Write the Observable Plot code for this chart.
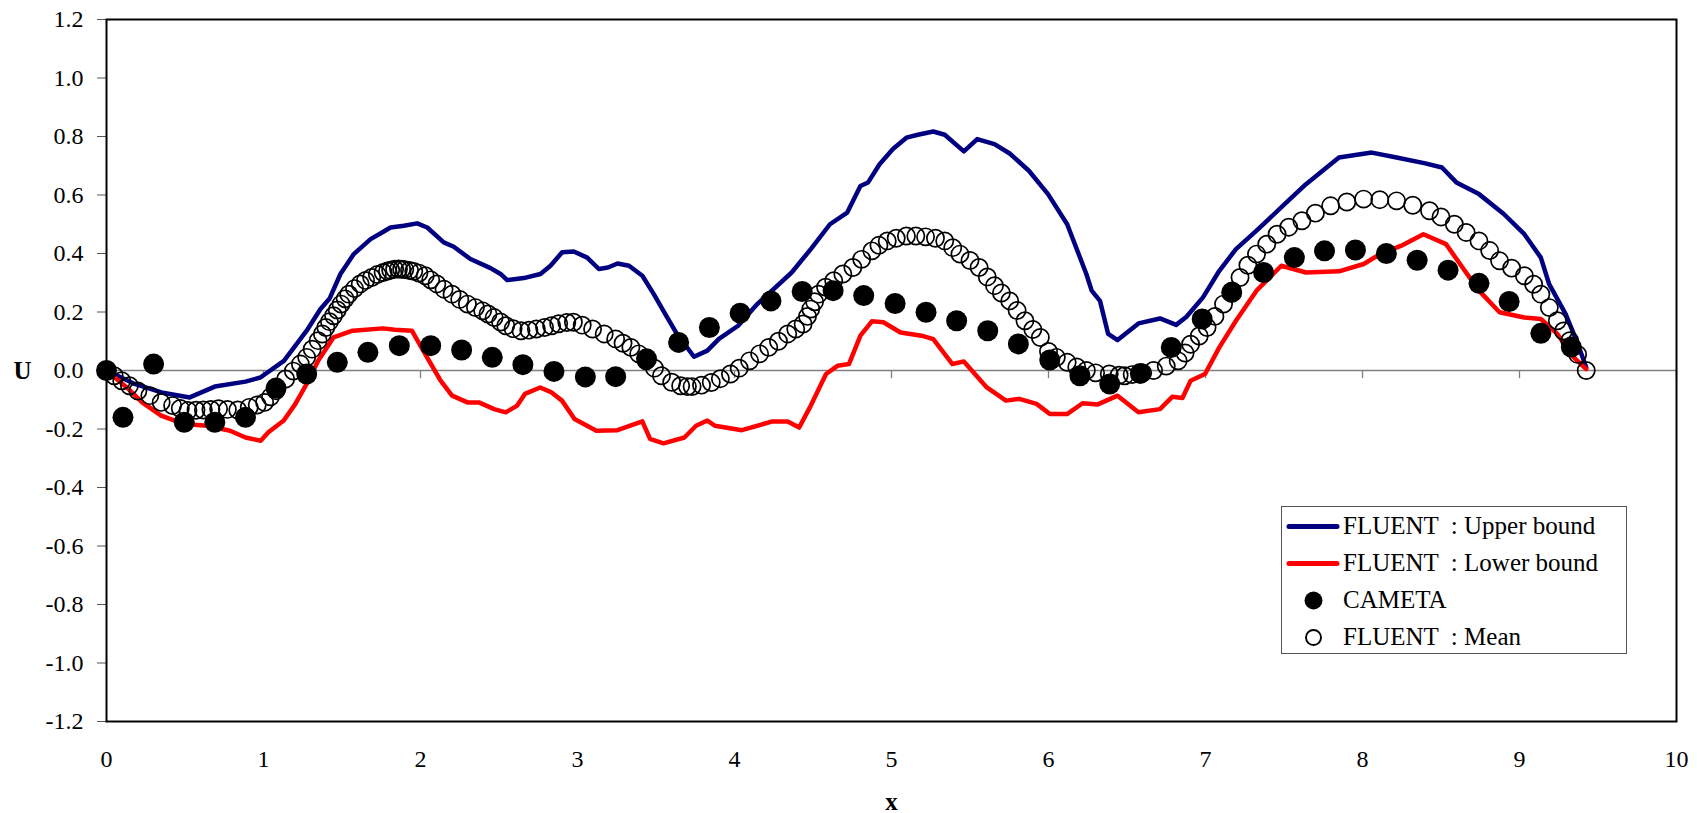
<!DOCTYPE html>
<html>
<head>
<meta charset="utf-8">
<script src="https://cdn.jsdelivr.net/npm/d3@7"></script>
<script src="https://cdn.jsdelivr.net/npm/@observablehq/plot@0.6"></script>
<style>
  html, body { margin: 0; padding: 0; background: white; }
  #wrap { position: relative; width: 1697px; height: 813px; }
  #wrap svg text { font-family: "Liberation Serif", "Times New Roman", Times, serif; }
  #legend {
    position: absolute; left: 1281px; top: 506px; width: 346px; height: 148px;
    border: 1px solid #555; background: white; box-sizing: border-box;
    font-family: "Liberation Serif", "Times New Roman", serif; font-size: 25px; color: #000;
  }
  .row { position: absolute; left: 0; height: 37px; width: 100%; }
  .row svg { position: absolute; left: 0; top: 0; }
  .row span { position: absolute; left: 61px; top: 50%; transform: translateY(-52%); white-space: pre; line-height: 1; }
</style>
</head>
<body>
<div id="wrap"></div>
<script>
// ---- data ----
const xTicks = [0, 1, 2, 3, 4, 5, 6, 7, 8, 9, 10];
const yTicks = [-1.2, -1.0, -0.8, -0.6, -0.4, -0.2, 0.0, 0.2, 0.4, 0.6, 0.8, 1.0, 1.2];

const seriesNames = ["FLUENT  : Upper bound", "FLUENT  : Lower bound", "CAMETA", "FLUENT  : Mean"];

const upperX = [0, 0.18, 0.35, 0.53, 0.69, 0.885, 0.98, 1.13, 1.275, 1.363, 1.42, 1.49, 1.575, 1.682, 1.75, 1.809, 1.894, 1.979, 2.043, 2.148, 2.212, 2.318, 2.446, 2.51, 2.552, 2.658, 2.764, 2.828, 2.902, 2.976, 3.062, 3.136, 3.194, 3.255, 3.328, 3.413, 3.486, 3.559, 3.633, 3.742, 3.827, 3.901, 4.023, 4.145, 4.364, 4.486, 4.608, 4.718, 4.802, 4.851, 4.924, 5.009, 5.095, 5.168, 5.266, 5.339, 5.461, 5.546, 5.656, 5.753, 5.875, 5.997, 6.119, 6.241, 6.275, 6.328, 6.38, 6.44, 6.573, 6.71, 6.813, 6.879, 6.984, 7.088, 7.194, 7.325, 7.509, 7.64, 7.85, 8.059, 8.217, 8.4, 8.506, 8.598, 8.742, 8.9, 9.031, 9.136, 9.189, 9.294, 9.372, 9.425];
const upperU = [0, -0.046, -0.075, -0.092, -0.055, -0.038, -0.024, 0.033, 0.136, 0.21, 0.245, 0.33, 0.398, 0.449, 0.47, 0.489, 0.495, 0.503, 0.489, 0.438, 0.423, 0.381, 0.35, 0.33, 0.309, 0.316, 0.33, 0.358, 0.404, 0.407, 0.386, 0.347, 0.352, 0.366, 0.358, 0.324, 0.261, 0.193, 0.125, 0.047, 0.068, 0.108, 0.153, 0.227, 0.335, 0.415, 0.50, 0.54, 0.631, 0.643, 0.705, 0.757, 0.796, 0.806, 0.817, 0.806, 0.749, 0.791, 0.774, 0.742, 0.683, 0.603, 0.50, 0.33, 0.273, 0.238, 0.125, 0.104, 0.161, 0.178, 0.156, 0.184, 0.25, 0.341, 0.415, 0.478, 0.571, 0.637, 0.728, 0.745, 0.728, 0.708, 0.694, 0.643, 0.603, 0.535, 0.466, 0.386, 0.295, 0.193, 0.09, 0.01];

const lowerX = [0, 0.129, 0.227, 0.348, 0.495, 0.641, 0.787, 0.885, 0.982, 1.031, 1.129, 1.202, 1.275, 1.348, 1.446, 1.567, 1.762, 1.836, 1.945, 2.03, 2.128, 2.201, 2.299, 2.372, 2.469, 2.543, 2.616, 2.665, 2.762, 2.835, 2.901, 2.981, 3.12, 3.255, 3.413, 3.462, 3.547, 3.681, 3.755, 3.827, 3.876, 4.047, 4.242, 4.339, 4.412, 4.486, 4.583, 4.656, 4.729, 4.802, 4.875, 4.948, 5.058, 5.192, 5.266, 5.388, 5.461, 5.607, 5.729, 5.814, 5.924, 6.009, 6.118, 6.217, 6.314, 6.44, 6.573, 6.71, 6.788, 6.853, 6.905, 6.997, 7.088, 7.194, 7.325, 7.483, 7.64, 7.85, 8.008, 8.112, 8.244, 8.388, 8.532, 8.637, 8.742, 8.873, 9.031, 9.136, 9.241, 9.346, 9.425];
const lowerU = [0, -0.058, -0.109, -0.154, -0.183, -0.189, -0.206, -0.229, -0.24, -0.211, -0.171, -0.115, -0.046, 0.033, 0.113, 0.136, 0.144, 0.139, 0.136, 0.056, -0.035, -0.086, -0.109, -0.109, -0.132, -0.143, -0.12, -0.08, -0.058, -0.075, -0.103, -0.166, -0.206, -0.204, -0.174, -0.234, -0.249, -0.229, -0.189, -0.171, -0.189, -0.204, -0.174, -0.174, -0.195, -0.12, -0.012, 0.016, 0.022, 0.119, 0.168, 0.165, 0.13, 0.119, 0.107, 0.022, 0.031, -0.058, -0.103, -0.097, -0.114, -0.149, -0.149, -0.112, -0.116, -0.086, -0.143, -0.132, -0.09, -0.094, -0.035, -0.012, 0.079, 0.17, 0.273, 0.358, 0.335, 0.339, 0.364, 0.398, 0.426, 0.466, 0.432, 0.352, 0.273, 0.199, 0.181, 0.176, 0.125, 0.045, 0.005];

const camX = [0, 0.105, 0.30, 0.495, 0.69, 0.885, 1.08, 1.275, 1.47, 1.665, 1.865, 2.065, 2.262, 2.457, 2.652, 2.85, 3.05, 3.243, 3.44, 3.644, 3.84, 4.036, 4.232, 4.431, 4.628, 4.823, 5.023, 5.22, 5.415, 5.613, 5.808, 6.008, 6.2, 6.39, 6.585, 6.782, 6.979, 7.167, 7.37, 7.566, 7.758, 7.955, 8.152, 8.348, 8.545, 8.742, 8.934, 9.136, 9.33];
const camU = [0, -0.16, 0.022, -0.177, -0.177, -0.16, -0.06, -0.012, 0.028, 0.062, 0.085, 0.085, 0.07, 0.045, 0.02, -0.003, -0.022, -0.021, 0.04, 0.096, 0.147, 0.196, 0.238, 0.27, 0.273, 0.256, 0.229, 0.199, 0.17, 0.136, 0.091, 0.036, -0.018, -0.046, -0.01, 0.079, 0.176, 0.267, 0.335, 0.386, 0.409, 0.412, 0.40, 0.377, 0.343, 0.298, 0.236, 0.127, 0.08];

const meanX = [0, 0.049, 0.097, 0.146, 0.2, 0.276, 0.348, 0.421, 0.47, 0.519, 0.57, 0.617, 0.665, 0.714, 0.77, 0.836, 0.909, 0.96, 1.007, 1.045, 1.08, 1.141, 1.19, 1.235, 1.275, 1.31, 1.348, 1.375, 1.397, 1.42, 1.446, 1.47, 1.494, 1.52, 1.543, 1.58, 1.616, 1.65, 1.689, 1.725, 1.762, 1.79, 1.81, 1.835, 1.86, 1.88, 1.9, 1.93, 1.957, 1.99, 2.03, 2.065, 2.104, 2.15, 2.201, 2.25, 2.299, 2.35, 2.396, 2.43, 2.469, 2.51, 2.543, 2.59, 2.64, 2.69, 2.738, 2.79, 2.835, 2.88, 2.932, 2.974, 3.03, 3.096, 3.17, 3.243, 3.29, 3.34, 3.39, 3.437, 3.49, 3.535, 3.6, 3.657, 3.7, 3.73, 3.79, 3.852, 3.91, 3.974, 4.03, 4.096, 4.16, 4.218, 4.28, 4.339, 4.39, 4.437, 4.465, 4.486, 4.51, 4.535, 4.58, 4.632, 4.69, 4.754, 4.81, 4.875, 4.92, 4.973, 5.03, 5.095, 5.155, 5.217, 5.28, 5.339, 5.39, 5.436, 5.5, 5.558, 5.61, 5.656, 5.7, 5.753, 5.8, 5.85, 5.9, 5.948, 6.0, 6.05, 6.119, 6.18, 6.241, 6.3, 6.387, 6.45, 6.485, 6.533, 6.6, 6.669, 6.75, 6.826, 6.87, 6.905, 6.96, 7.01, 7.06, 7.115, 7.17, 7.22, 7.27, 7.325, 7.39, 7.456, 7.53, 7.614, 7.7, 7.797, 7.9, 8.007, 8.11, 8.217, 8.32, 8.427, 8.5, 8.585, 8.66, 8.742, 8.81, 8.873, 8.95, 9.031, 9.09, 9.136, 9.19, 9.241, 9.28, 9.32, 9.37, 9.425];
const meanU = [0, -0.018, -0.035, -0.052, -0.07, -0.086, -0.109, -0.12, -0.13, -0.137, -0.136, -0.135, -0.133, -0.131, -0.133, -0.135, -0.126, -0.118, -0.109, -0.09, -0.069, -0.029, -0.002, 0.022, 0.045, 0.073, 0.102, 0.125, 0.147, 0.167, 0.187, 0.207, 0.227, 0.245, 0.261, 0.28, 0.296, 0.308, 0.318, 0.328, 0.335, 0.34, 0.343, 0.346, 0.347, 0.346, 0.345, 0.342, 0.339, 0.333, 0.324, 0.31, 0.296, 0.278, 0.261, 0.243, 0.227, 0.215, 0.204, 0.193, 0.181, 0.166, 0.153, 0.143, 0.136, 0.138, 0.142, 0.147, 0.153, 0.16, 0.164, 0.165, 0.155, 0.142, 0.125, 0.108, 0.093, 0.079, 0.057, 0.033, 0.008, -0.018, -0.04, -0.052, -0.055, -0.055, -0.05, -0.041, -0.028, -0.012, 0.008, 0.033, 0.057, 0.079, 0.1, 0.125, 0.142, 0.159, 0.185, 0.21, 0.235, 0.261, 0.285, 0.307, 0.33, 0.352, 0.38, 0.409, 0.428, 0.443, 0.452, 0.46, 0.46, 0.457, 0.452, 0.443, 0.42, 0.398, 0.376, 0.352, 0.32, 0.29, 0.265, 0.238, 0.205, 0.17, 0.14, 0.113, 0.065, 0.045, 0.028, 0.012, 0.0, -0.008, -0.012, -0.016, -0.018, -0.014, -0.008, 0.0, 0.015, 0.033, 0.06, 0.09, 0.118, 0.147, 0.185, 0.227, 0.272, 0.318, 0.36, 0.398, 0.432, 0.466, 0.49, 0.512, 0.538, 0.563, 0.576, 0.586, 0.584, 0.58, 0.565, 0.546, 0.525, 0.50, 0.472, 0.443, 0.41, 0.375, 0.35, 0.324, 0.295, 0.261, 0.215, 0.17, 0.135, 0.102, 0.055, 0.0];

const colors = { upper: "#000080", lower: "#ff0000", cameta: "#000000", mean: "#000000" };

// ---- build tables ----
const zipXY = (xs, ys) => xs.map((x, i) => ({ x, u: ys[i] }));
const upper = zipXY(upperX, upperU);
const lower = zipXY(lowerX, lowerU);
const cameta = zipXY(camX, camU);
const mean = zipXY(meanX, meanU);

const serif = '"Liberation Serif", "Times New Roman", Times, serif';

const chart = Plot.plot({
  width: 1697,
  height: 813,
  marginLeft: 106,
  marginRight: 21,
  marginTop: 19,
  marginBottom: 92,
  x: { domain: [0, 10] },
  y: { domain: [-1.2, 1.2] },
  style: { fontFamily: serif, fontSize: "24px", color: "#000", background: "white" },
  marks: [
    Plot.ruleY([0], { stroke: "#808080", strokeWidth: 1.3 }),
    Plot.ruleX(xTicks, { x: d => d, y1: 0, y2: -0.028, stroke: "#808080", strokeWidth: 1.3 }),
    Plot.axisY({ ticks: yTicks, tickSize: 9, tickPadding: 14, tickFormat: d => d.toFixed(1), label: null, stroke: "#555", fontFamily: serif, fontVariant: "normal" }),
    Plot.axisX({ ticks: xTicks, tickSize: 0, tickPadding: 28, tickFormat: d => String(d), label: null, fontFamily: serif, fontVariant: "normal" }),
    Plot.line(upper, { x: "x", y: "u", stroke: colors.upper, strokeWidth: 4.5 }),
    Plot.line(lower, { x: "x", y: "u", stroke: colors.lower, strokeWidth: 4.5 }),
    Plot.dot(cameta, { x: "x", y: "u", r: 10.5, fill: colors.cameta, stroke: "none" }),
    Plot.dot(mean, { x: "x", y: "u", r: 8.6, fill: "none", stroke: colors.mean, strokeWidth: 1.7 }),
    Plot.frame({ stroke: "#000", strokeWidth: 2 }),
    Plot.text(["U"], { text: d => d, frameAnchor: "left", textAnchor: "middle", lineAnchor: "middle", dx: -84, fontWeight: "bold", fontSize: 25, fontFamily: serif }),
    Plot.text(["x"], { text: d => d, frameAnchor: "bottom", textAnchor: "middle", lineAnchor: "middle", dy: 80, fontWeight: "bold", fontSize: 25, fontFamily: serif })
  ]
});

const wrap = document.getElementById("wrap");
wrap.appendChild(chart);

// ---- legend (inside the plot area, lower right) ----
const legend = document.createElement("div");
legend.id = "legend";
const kinds = ["line", "line", "filled", "open"];
const swatchColors = [colors.upper, colors.lower, colors.cameta, colors.mean];
seriesNames.forEach((name, i) => {
  const row = document.createElement("div");
  row.className = "row";
  row.style.top = (0.5 + i * 37) + "px";
  let sw = "";
  if (kinds[i] === "line") {
    sw = `<line x1="7" x2="55" y1="18.5" y2="18.5" stroke="${swatchColors[i]}" stroke-width="5" stroke-linecap="round"/>`;
  } else if (kinds[i] === "filled") {
    sw = `<circle cx="31.5" cy="18.5" r="9" fill="${swatchColors[i]}"/>`;
  } else {
    sw = `<circle cx="31.5" cy="18.5" r="7.5" fill="none" stroke="${swatchColors[i]}" stroke-width="1.9"/>`;
  }
  row.innerHTML = `<svg width="60" height="37">${sw}</svg><span></span>`;
  row.querySelector("span").textContent = name;
  legend.appendChild(row);
});
wrap.appendChild(legend);
</script>
</body>
</html>
